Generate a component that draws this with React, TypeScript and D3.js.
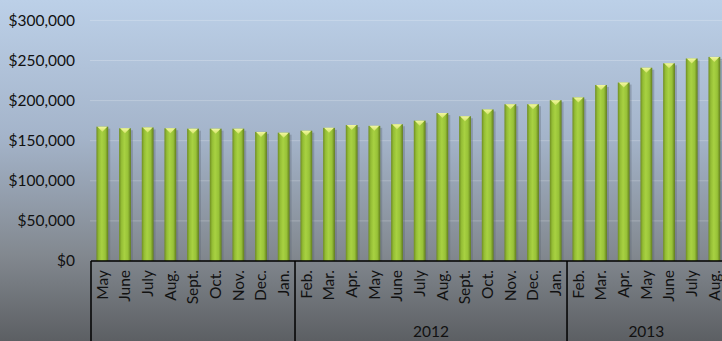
import React from "react";
import * as d3 from "d3";

const months = [
  "May", "June", "July", "Aug.", "Sept.", "Oct.", "Nov.", "Dec.", "Jan.",
  "Feb.", "Mar.", "Apr.", "May", "June", "July", "Aug.", "Sept.", "Oct.", "Nov.", "Dec.", "Jan.",
  "Feb.", "Mar.", "Apr.", "May", "June", "July", "Aug.",
];
const values = [
  167500, 165500, 166500, 165500, 165000, 165000, 165000, 161000, 160000,
  162500, 166000, 169500, 168500, 170500, 175000, 184500, 180500, 189000, 195500, 195500, 200500,
  204000, 219500, 222500, 241000, 246500, 252500, 254500,
];
const groups = [
  { label: "", start: 0, end: 9 },
  { label: "2012", start: 9, end: 21 },
  { label: "2013", start: 21, end: 28 },
];
const yTicks = [0, 50000, 100000, 150000, 200000, 250000, 300000];

const W = 722;
const H = 341;
const left = 91;
const right = 725.7;
const top = 20.4;
const bottom = 261;

export default function App() {
  const idx = months.map((_, i) => i);
  const x = d3.scaleBand<number>().domain(idx).range([left, right]).paddingInner(0.48).paddingOuter(0.24);
  const step = x.step();
  const y = d3.scaleLinear().domain([0, 300000]).range([bottom, top]);
  const fmt = (v: number) => "$" + d3.format(",")(v);
  const bw = x.bandwidth();
  const font = "Lato, 'Open Sans', sans-serif";
  const edge = (i: number) => left + i * step;

  return (
    <svg width={W} height={H} style={{ position: "absolute", left: 0, top: 0 }}>
      <defs>
        <linearGradient id="bg" x1="0" y1="0" x2="0" y2="1">
          <stop offset="0" stopColor="#bcd0e8" />
          <stop offset="0.4" stopColor="#a4b4ca" />
          <stop offset="0.75" stopColor="#82888f" />
          <stop offset="1" stopColor="#5c5f63" />
        </linearGradient>
        <linearGradient id="bar" x1="0" y1="0" x2="1" y2="0">
          <stop offset="0" stopColor="#6f8d22" />
          <stop offset="0.2" stopColor="#94bd35" />
          <stop offset="0.45" stopColor="#a8d142" />
          <stop offset="0.75" stopColor="#98c238" />
          <stop offset="1" stopColor="#617c1c" />
        </linearGradient>
        <linearGradient id="cap" x1="0" y1="0" x2="0" y2="1">
          <stop offset="0" stopColor="#f2f7a0" />
          <stop offset="1" stopColor="#d3e468" />
        </linearGradient>
      </defs>
      <rect x={0} y={0} width={W} height={H} fill="url(#bg)" />
      {yTicks.map((t) => (
        <g key={t}>
          {t > 0 && (
            <line x1={90} x2={W} y1={y(t)} y2={y(t)} stroke="#ffffff" strokeOpacity={0.22} strokeWidth={1} />
          )}
          <text x={75} y={y(t)} dy="0.35em" textAnchor="end" fontFamily={font} fontSize={15.5} fill="#111">
            {fmt(t)}
          </text>
        </g>
      ))}
      {values.map((v, i) => {
        const bx = x(i)!;
        const by = y(v);
        return (
          <g key={i}>
            <rect x={bx + 2} y={by + 2} width={bw} height={bottom - by - 2} fill="#5a6270" opacity={0.35} />
            <rect x={bx} y={by} width={bw} height={bottom - by} fill="url(#bar)" />
            <path
              d={`M${bx + 1},${by} L${bx + bw - 1},${by} L${bx + bw / 2},${by + 5} Z`}
              fill="url(#cap)"
            />
          </g>
        );
      })}
      <line x1={left} x2={W} y1={bottom} y2={bottom} stroke="#000" strokeWidth={1.5} />
      {groups.map((g) => (
        <line key={"s" + g.start} x1={edge(g.start)} x2={edge(g.start)} y1={bottom} y2={H} stroke="#000" strokeWidth={1.5} />
      ))}
      {months.map((m, i) => {
        const cx = x(i)! + bw / 2;
        return (
          <text
            key={i}
            transform={`translate(${cx},${270}) rotate(-90)`}
            textAnchor="end"
            dy="0.35em"
            fontFamily={font}
            fontSize={15.5}
            fill="#111"
          >
            {m}
          </text>
        );
      })}
      {groups.map((g) => (
        <text
          key={"g" + g.start}
          x={(edge(g.start) + edge(g.end)) / 2}
          y={332}
          dy="0.35em"
          textAnchor="middle"
          fontFamily={font}
          fontSize={15.5}
          fill="#111"
        >
          {g.label}
        </text>
      ))}
    </svg>
  );
}
